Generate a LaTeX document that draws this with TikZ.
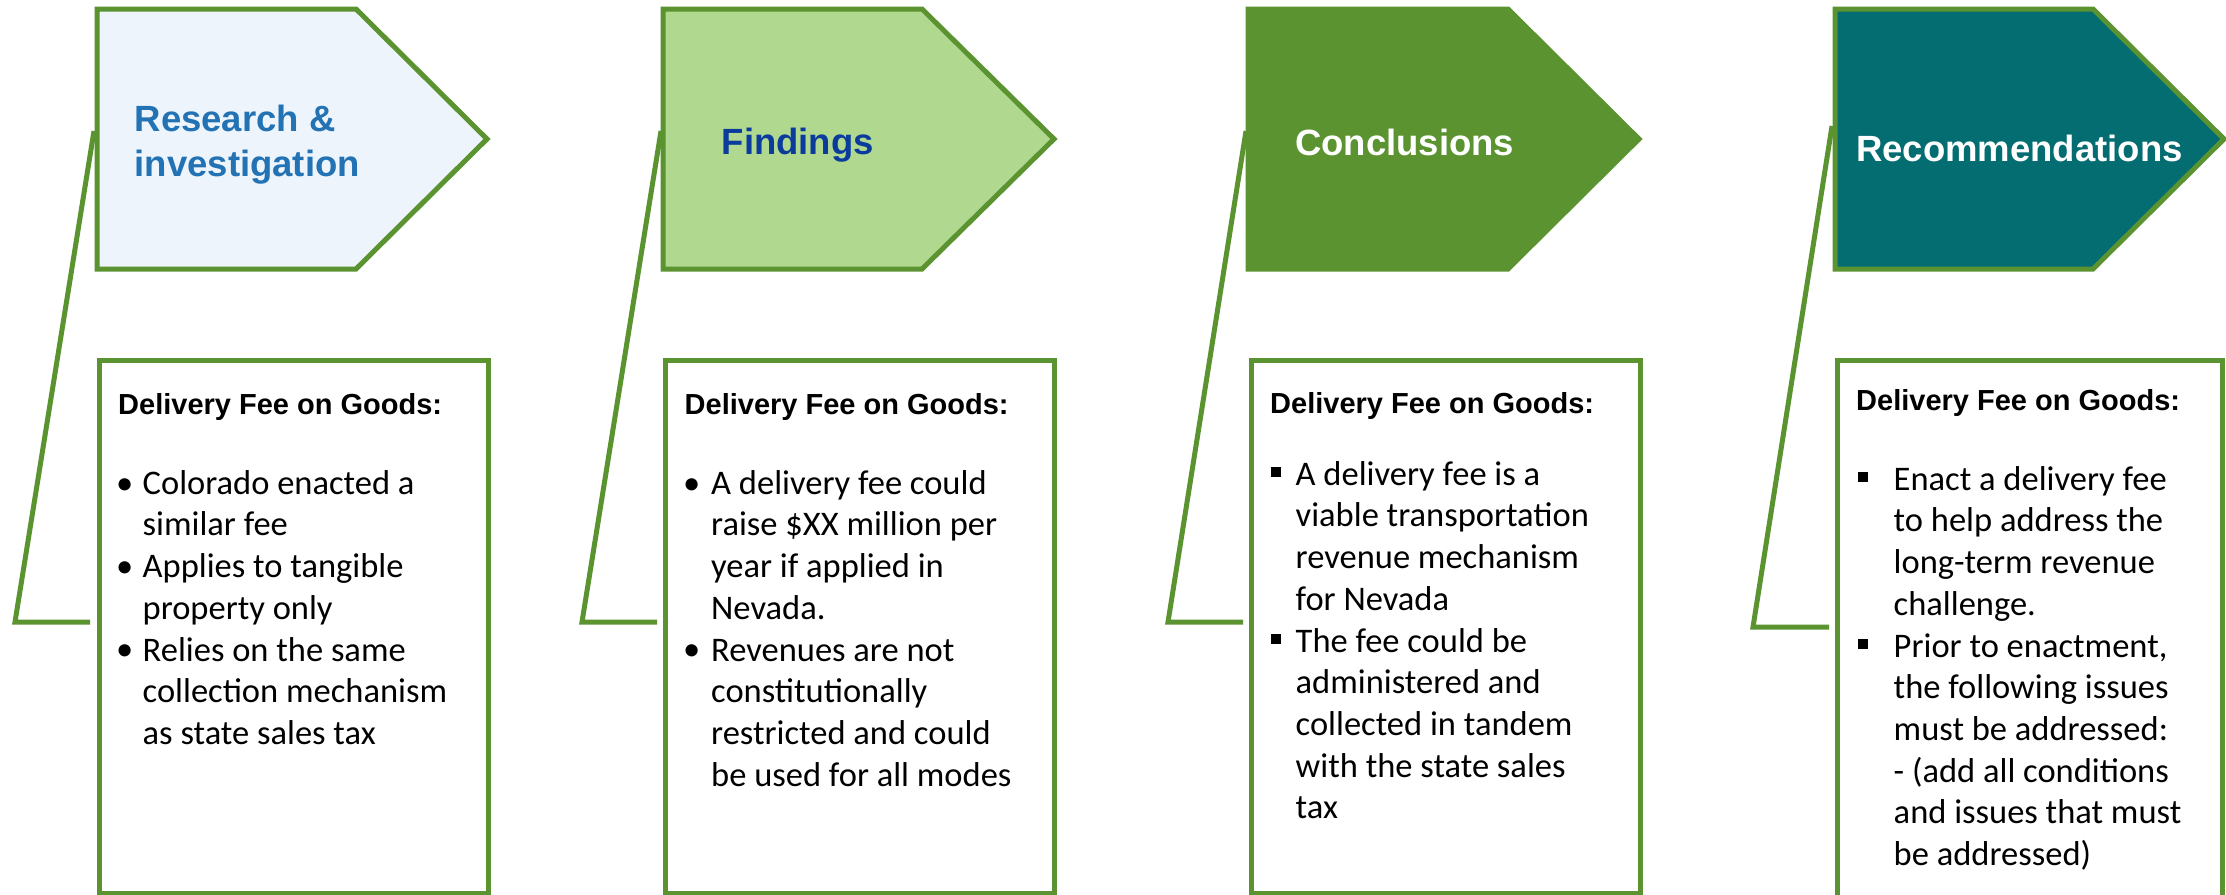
\documentclass[tikz,border=0pt]{standalone}
\usepackage{fontspec}
\setmainfont{Carlito}
\newfontfamily\arial{Liberation Sans}
\definecolor{grn}{HTML}{5B9331}
\definecolor{lblue}{HTML}{EDF4FB}
\definecolor{lgreen}{HTML}{B0D98F}
\definecolor{tealc}{HTML}{046D71}
\definecolor{tblue}{HTML}{2272B4}
\definecolor{dblue}{HTML}{0C3B9E}
\newcommand\tstrut{\rule{0pt}{34pt}}
\newcommand\hstrut{\rule{0pt}{24pt}}
\newcommand\bstrut{\rule{0pt}{30pt}}
\tikzset{
  pent/.style={draw=grn, line width=5pt},
  cbox/.style={draw=grn, line width=5pt, fill=white, inner sep=0pt, minimum width=389pt, minimum height=533pt, anchor=north west},
  ttl/.style={anchor=north west, inner sep=0pt, align=left, font=\arial\bfseries\fontsize{36.5}{45}\selectfont},
  hd/.style={anchor=north west, inner sep=0pt, font=\arial\bfseries\fontsize{29}{35}\selectfont},
  body/.style={anchor=north west, inner sep=0pt, align=left, font=\fontsize{34.5}{41.7}\selectfont},
  dotb/.style={anchor=base west, inner sep=0pt, font=\fontsize{34.5}{41.7}\selectfont},
  sqb/.style={fill=black, minimum size=10pt, inner sep=0pt, anchor=south west},
  conn/.style={draw=grn, line width=5pt}
}
\begin{document}
\begin{tikzpicture}[x=1pt,y=-1pt]
\useasboundingbox (0,0) rectangle (2226,894);
\clip (0,0) rectangle (2226,894);

% ---------- column 1 ----------
\coordinate (c1s) at (94,131);
\coordinate (c1k) at (15,622);
\coordinate (c1e) at (90,622);
\draw[conn] (c1s) -- (c1k) -- (c1e);
\path[pent, fill=lblue] (97,9) coordinate (p1a) -- (356,9) coordinate (p1b) -- (487,139) coordinate (p1t) -- (356,269) coordinate (p1c) -- (97,269) coordinate (p1d) -- cycle;
\node[ttl, text=tblue] (t1) at (134.5,97) {\tstrut Research \&\\investigation};
\node[cbox] (b1) at (97,358) {};
\node[hd] (h1) at (118,390) {\hstrut Delivery Fee on Goods:};
\node[dotb] (d1a) at (116,494) {•};
\node[dotb] (d1b) at (116,577.4) {•};
\node[dotb] (d1c) at (116,660.8) {•};
\node[body] (x1) at (142.5,464) {\bstrut Colorado enacted a\\similar fee\\Applies to tangible\\property only\\Relies on the same\\collection mechanism\\as state sales tax};

% ---------- column 2 ----------
\coordinate (c2s) at (661,131);
\coordinate (c2k) at (582,622);
\coordinate (c2e) at (657,622);
\draw[conn] (c2s) -- (c2k) -- (c2e);
\path[pent, fill=lgreen] (663,9) coordinate (p2a) -- (922,9) coordinate (p2b) -- (1054,139) coordinate (p2t) -- (922,269) coordinate (p2c) -- (663,269) coordinate (p2d) -- cycle;
\node[ttl, text=dblue] (t2) at (721.5,120.5) {\tstrut Findings};
\node[cbox] (b2) at (663,358) {};
\node[hd] (h2) at (684.5,390) {\hstrut Delivery Fee on Goods:};
\node[dotb] (d2a) at (683,494) {•};
\node[dotb] (d2b) at (683,660.8) {•};
\node[body] (x2) at (711,464) {\bstrut A delivery fee could\\raise \$XX million per\\year if applied in\\Nevada.\\Revenues are not\\constitutionally\\restricted and could\\be used for all modes};

% ---------- column 3 ----------
\coordinate (c3s) at (1246,131);
\coordinate (c3k) at (1168,622);
\coordinate (c3e) at (1243,622);
\draw[conn] (c3s) -- (c3k) -- (c3e);
\path[pent, fill=grn] (1248,9) coordinate (p3a) -- (1508,9) coordinate (p3b) -- (1639,139) coordinate (p3t) -- (1508,269) coordinate (p3c) -- (1248,269) coordinate (p3d) -- cycle;
\node[ttl, text=white] (t3) at (1295,121.5) {\tstrut Conclusions};
\node[cbox] (b3) at (1249,358) {};
\node[hd] (h3) at (1270,389) {\hstrut Delivery Fee on Goods:};
\node[sqb] (s3a) at (1271,477) {};
\node[sqb] (s3b) at (1271,643.8) {};
\node[body] (x3) at (1295.5,455) {\bstrut A delivery fee is a\\viable transportation\\revenue mechanism\\for Nevada\\The fee could be\\administered and\\collected in tandem\\with the state sales\\tax};

% ---------- column 4 ----------
\coordinate (c4s) at (1832,126);
\coordinate (c4k) at (1753,627);
\coordinate (c4e) at (1829,627);
\draw[conn] (c4s) -- (c4k) -- (c4e);
\path[pent, fill=tealc] (1835,9) coordinate (p4a) -- (2093,9) coordinate (p4b) -- (2224,139) coordinate (p4t) -- (2093,269) coordinate (p4c) -- (1835,269) coordinate (p4d) -- cycle;
\node[ttl, text=white] (t4) at (1856,127.5) {\tstrut Recommendations};
\node[cbox, minimum width=385pt, minimum height=560pt] (b4) at (1835,358) {};
\node[hd] (h4) at (1856,386) {\hstrut Delivery Fee on Goods:};
\node[sqb] (s4a) at (1858,482) {};
\node[sqb] (s4b) at (1858,648.8) {};
\node[body] (x4) at (1893.5,460) {\bstrut Enact a delivery fee\\to help address the\\long-term revenue\\challenge.\\Prior to enactment,\\the following issues\\must be addressed:\\- (add all conditions\\and issues that must\\be addressed)};
\end{tikzpicture}
\end{document}
